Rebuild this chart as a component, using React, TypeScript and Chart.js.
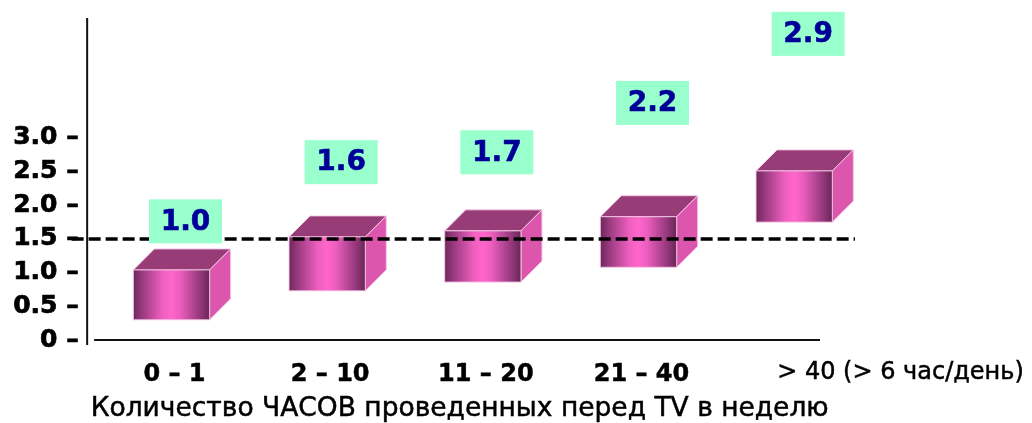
import { useEffect, useRef } from 'react';
import { Chart, registerables } from 'chart.js';

Chart.register(...registerables);

// Viewing-time groups (hours per week)
const categories = ['0 – 1', '2 – 10', '11 – 20', '21 – 40', '> 40 (> 6 час/день)'];
// Value printed in the mint label above each group
const reportedValues = [1.0, 1.6, 1.7, 2.2, 2.9];
// Vertical extent of each 3D box front face
const boxLow = [0.3, 0.73, 0.86, 1.08, 1.75];
const boxHigh = [1.04, 1.53, 1.62, 1.83, 2.51];
// Dashed reference level
const referenceLevel = 1.5;
// Y-axis tick values
const yTicks = [0, 0.5, 1.0, 1.5, 2.0, 2.5, 3.0];
const axisTitle = 'Количество ЧАСОВ проведенных перед TV в неделю';

const FONT = '"DejaVu Sans", Verdana, sans-serif';
const DEPTH = 21;

const decorPlugin = {
  id: 'decor',
  afterDatasetsDraw(chart: any) {
    const ctx: CanvasRenderingContext2D = chart.ctx;
    const area = chart.chartArea;
    const yScale = chart.scales.y;
    const xScale = chart.scales.x;
    ctx.save();

    // axis lines
    ctx.strokeStyle = '#111';
    ctx.lineWidth = 2;
    ctx.beginPath();
    ctx.moveTo(area.left - 6.5, area.top);
    ctx.lineTo(area.left - 6.5, yScale.getPixelForValue(0) + 5);
    ctx.stroke();
    ctx.beginPath();
    ctx.moveTo(area.left + 0.5, yScale.getPixelForValue(0));
    ctx.lineTo(area.right - 52, yScale.getPixelForValue(0));
    ctx.stroke();

    // 3D boxes
    const meta = chart.getDatasetMeta(0);
    meta.data.forEach((bar: any) => {
      const { x, y, base, width } = bar.getProps(['x', 'y', 'base', 'width'], true);
      const l = x - width / 2;
      const r = x + width / 2;
      const top = Math.min(y, base);
      const bot = Math.max(y, base);
      ctx.lineWidth = 1;
      ctx.strokeStyle = 'rgba(245,200,230,0.9)';
      // top face
      ctx.beginPath();
      ctx.moveTo(l, top);
      ctx.lineTo(l + DEPTH, top - DEPTH);
      ctx.lineTo(r + DEPTH, top - DEPTH);
      ctx.lineTo(r, top);
      ctx.closePath();
      ctx.fillStyle = '#983c78';
      ctx.fill();
      ctx.stroke();
      // side face
      ctx.beginPath();
      ctx.moveTo(r, top);
      ctx.lineTo(r + DEPTH, top - DEPTH);
      ctx.lineTo(r + DEPTH, bot - DEPTH);
      ctx.lineTo(r, bot);
      ctx.closePath();
      ctx.fillStyle = '#dc56ae';
      ctx.fill();
      ctx.stroke();
      // front face
      const g = ctx.createLinearGradient(l, 0, r, 0);
      g.addColorStop(0, '#6e285c');
      g.addColorStop(0.12, '#9a3a80');
      g.addColorStop(0.38, '#ee5fbf');
      g.addColorStop(0.5, '#ff66cc');
      g.addColorStop(0.62, '#ea5dbd');
      g.addColorStop(0.86, '#9a3a80');
      g.addColorStop(1, '#6a2656');
      ctx.fillStyle = g;
      ctx.fillRect(l, top, width, bot - top);
      ctx.strokeRect(l, top, width, bot - top);
    });

    // dashed reference line
    const yr = yScale.getPixelForValue(referenceLevel);
    ctx.setLineDash([12, 5]);
    ctx.lineWidth = 3.5;
    ctx.strokeStyle = '#000';
    ctx.beginPath();
    ctx.moveTo(area.left - 22, yr);
    ctx.lineTo(area.right - 17, yr);
    ctx.stroke();
    ctx.setLineDash([]);

    // value labels
    const lblMeta = chart.getDatasetMeta(1);
    lblMeta.data.forEach((pt: any, i: number) => {
      const { x, y } = pt.getProps(['x', 'y'], true);
      const cx = x + 14;
      ctx.fillStyle = '#99ffcc';
      ctx.fillRect(cx - 36.5, y - 22, 73, 44);
      ctx.fillStyle = '#000099';
      ctx.strokeStyle = '#000099';
      ctx.lineWidth = 0.6;
      ctx.font = `bold 28px ${FONT}`;
      ctx.textAlign = 'center';
      ctx.textBaseline = 'middle';
      ctx.fillText(reportedValues[i].toFixed(1), cx, y + 1);
      ctx.strokeText(reportedValues[i].toFixed(1), cx, y + 1);
    });

    // category labels
    ctx.fillStyle = '#000';
    ctx.strokeStyle = '#000';
    ctx.lineWidth = 0.5;
    ctx.textBaseline = 'middle';
    categories.forEach((c, i) => {
      const x = xScale.getPixelForValue(i);
      if (i === categories.length - 1) {
        ctx.font = `24px ${FONT}`;
        ctx.textAlign = 'left';
        ctx.fillText(c, x - 17, 373);
        ctx.strokeText(c, x - 17, 373);
      } else {
        ctx.font = `bold 24px ${FONT}`;
        ctx.textAlign = 'center';
        ctx.fillText(c, x + 3, 375);
        ctx.strokeText(c, x + 3, 375);
      }
    });

    // axis title
    ctx.font = `26.5px ${FONT}`;
    ctx.textAlign = 'center';
    ctx.fillText(axisTitle, area.left + 366, 409);
    ctx.strokeText(axisTitle, area.left + 366, 409);

    ctx.restore();
  },
};

export default function App() {
  const ref = useRef<HTMLCanvasElement>(null);

  useEffect(() => {
    if (!ref.current) return;
    const chart = new Chart(ref.current, {
      type: 'bar',
      data: {
        labels: categories,
        datasets: [
          {
            type: 'bar',
            data: boxLow.map((lo, i) => [lo, boxHigh[i]]) as any,
            backgroundColor: 'rgba(0,0,0,0)',
            borderWidth: 0,
            barPercentage: 1,
            categoryPercentage: 0.49,
            yAxisID: 'y',
          },
          {
            type: 'line',
            data: reportedValues,
            showLine: false,
            pointRadius: 0,
            yAxisID: 'yv',
          } as any,
        ],
      },
      options: {
        responsive: false,
        animation: false,
        events: [],
        layout: { padding: { left: 0, top: 18, right: 160, bottom: 83 } },
        plugins: { legend: { display: false }, tooltip: { enabled: false } },
        scales: {
          x: {
            offset: true,
            grid: { display: false },
            border: { display: false },
            ticks: { display: false },
            afterFit: (s: any) => {
              s.height = 0;
              s.paddingLeft = 0;
              s.paddingRight = 0;
            },
          },
          y: {
            min: 0,
            max: 4.78,
            grid: { display: false },
            border: { display: false },
            afterBuildTicks: (s: any) => {
              s.ticks = yTicks.map((v) => ({ value: v }));
            },
            ticks: {
              padding: 7,
              color: '#000',
              textStrokeColor: '#000',
              textStrokeWidth: 0.7,
              font: { family: FONT, size: 25, weight: 'bold' },
              callback: (v: any) => (Number(v) === 0 ? '0' : Number(v).toFixed(1)) + ' –',
            },
            afterFit: (s: any) => {
              s.width = 93.65;
              s.paddingTop = 0;
              s.paddingBottom = 0;
            },
          },
          yv: {
            display: false,
            min: -0.203,
            max: 3.061,
          },
        },
      },
      plugins: [decorPlugin],
    });
    return () => chart.destroy();
  }, []);

  return (
    <div style={{ position: 'absolute', left: 0, top: 0, width: 1032, height: 423 }}>
      <canvas ref={ref} width={1032} height={423} style={{ display: 'block' }} />
    </div>
  );
}
